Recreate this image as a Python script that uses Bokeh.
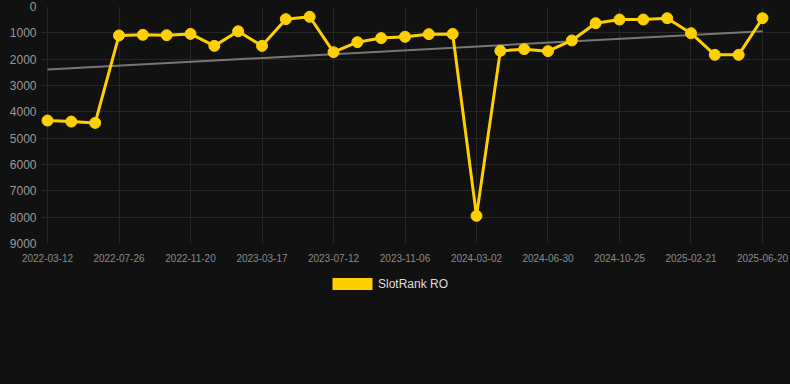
from bokeh.plotting import figure
from bokeh.layouts import column
from bokeh.models import Range1d, FixedTicker, Legend, LegendItem, ColumnDataSource
from bokeh.embed import file_html
from bokeh.resources import INLINE

# ---- data ----
tick_labels = ["2022-03-12", "2022-07-26", "2022-11-20", "2023-03-17", "2023-07-12",
               "2023-11-06", "2024-03-02", "2024-06-30", "2024-10-25", "2025-02-21",
               "2025-06-20"]
rank = [4330, 4370, 4420, 1100, 1075, 1090, 1040, 1495, 940, 1495,
        480, 390, 1735, 1355, 1200, 1150, 1050, 1040, 7950, 1685,
        1620, 1695, 1290, 635, 495, 495, 445, 1015, 1835, 1835, 445]
trend = [2390, 940]
series_name = "SlotRank RO"

idx = list(range(len(rank)))
tick_pos = [i * 3 for i in range(len(tick_labels))]

YELLOW = "#FFD000"
BG = "#111111"

p = figure(width=790, height=270, output_backend="svg", toolbar_location=None,
           x_range=Range1d(-0.294, 31.175), y_range=Range1d(9000, 0),
           min_border_left=40, min_border_right=0, min_border_top=6,
           min_border_bottom=27)
p.background_fill_color = BG
p.border_fill_color = BG
p.outline_line_color = None
p.styles = {"background-color": BG}

src = ColumnDataSource(dict(x=idx, y=rank))
p.line([0, len(rank) - 1], trend, line_color="#888888", line_width=2, line_alpha=0.85)
p.line("x", "y", source=src, line_color=YELLOW, line_width=3)
p.scatter("x", "y", source=src, size=11, fill_color=YELLOW, line_color=YELLOW)

for ax in (p.xaxis[0], p.yaxis[0]):
    ax.axis_line_color = None
    ax.major_tick_line_color = None
    ax.minor_tick_line_color = None
    ax.major_tick_out = 0
    ax.minor_tick_out = 0
    ax.major_label_text_font = "Liberation Sans"

p.xaxis.ticker = FixedTicker(ticks=tick_pos)
p.xaxis.major_label_overrides = {t: l for t, l in zip(tick_pos, tick_labels)}
p.xaxis.major_label_text_font_size = "10px"
p.xaxis.major_label_text_color = "#8a8a8a"
p.xaxis.major_label_standoff = 10

p.yaxis.ticker = FixedTicker(ticks=list(range(0, 9001, 1000)))
p.yaxis.major_label_text_font_size = "12px"
p.yaxis.major_label_text_color = "#9a9a9a"
p.yaxis.major_label_standoff = 4

p.xgrid.grid_line_color = "#262626"
p.ygrid.grid_line_color = "#262626"
p.xgrid.ticker = FixedTicker(ticks=tick_pos)

# legend strip below the chart
p2 = figure(width=790, height=114, output_backend="svg", toolbar_location=None,
            x_range=Range1d(0, 1), y_range=Range1d(0, 1),
            min_border_left=0, min_border_right=0, min_border_top=0, min_border_bottom=0)
p2.background_fill_color = BG
p2.border_fill_color = BG
p2.outline_line_color = None
p2.styles = {"background-color": BG}
p2.axis.visible = False
p2.grid.visible = False
# swatch renderer kept outside the visible range; only its legend glyph shows
dummy = p2.quad(left=[5], right=[6], top=[5], bottom=[4], fill_color=YELLOW, line_color=None)

legend = Legend(items=[LegendItem(label=series_name, renderers=[dummy])],
                location=(287, 93), orientation="horizontal",
                glyph_width=50, glyph_height=15, label_height=15,
                label_standoff=1, padding=0, margin=0, spacing=0,
                background_fill_alpha=0, border_line_color=None,
                label_text_color="#dddddd", label_text_font_size="12px",
                label_text_font="Liberation Sans")
p2.add_layout(legend, "center")

layout = column(p, p2, spacing=0)
layout.styles = {"background-color": BG}
open("out.html", "w").write(file_html(layout, INLINE))
